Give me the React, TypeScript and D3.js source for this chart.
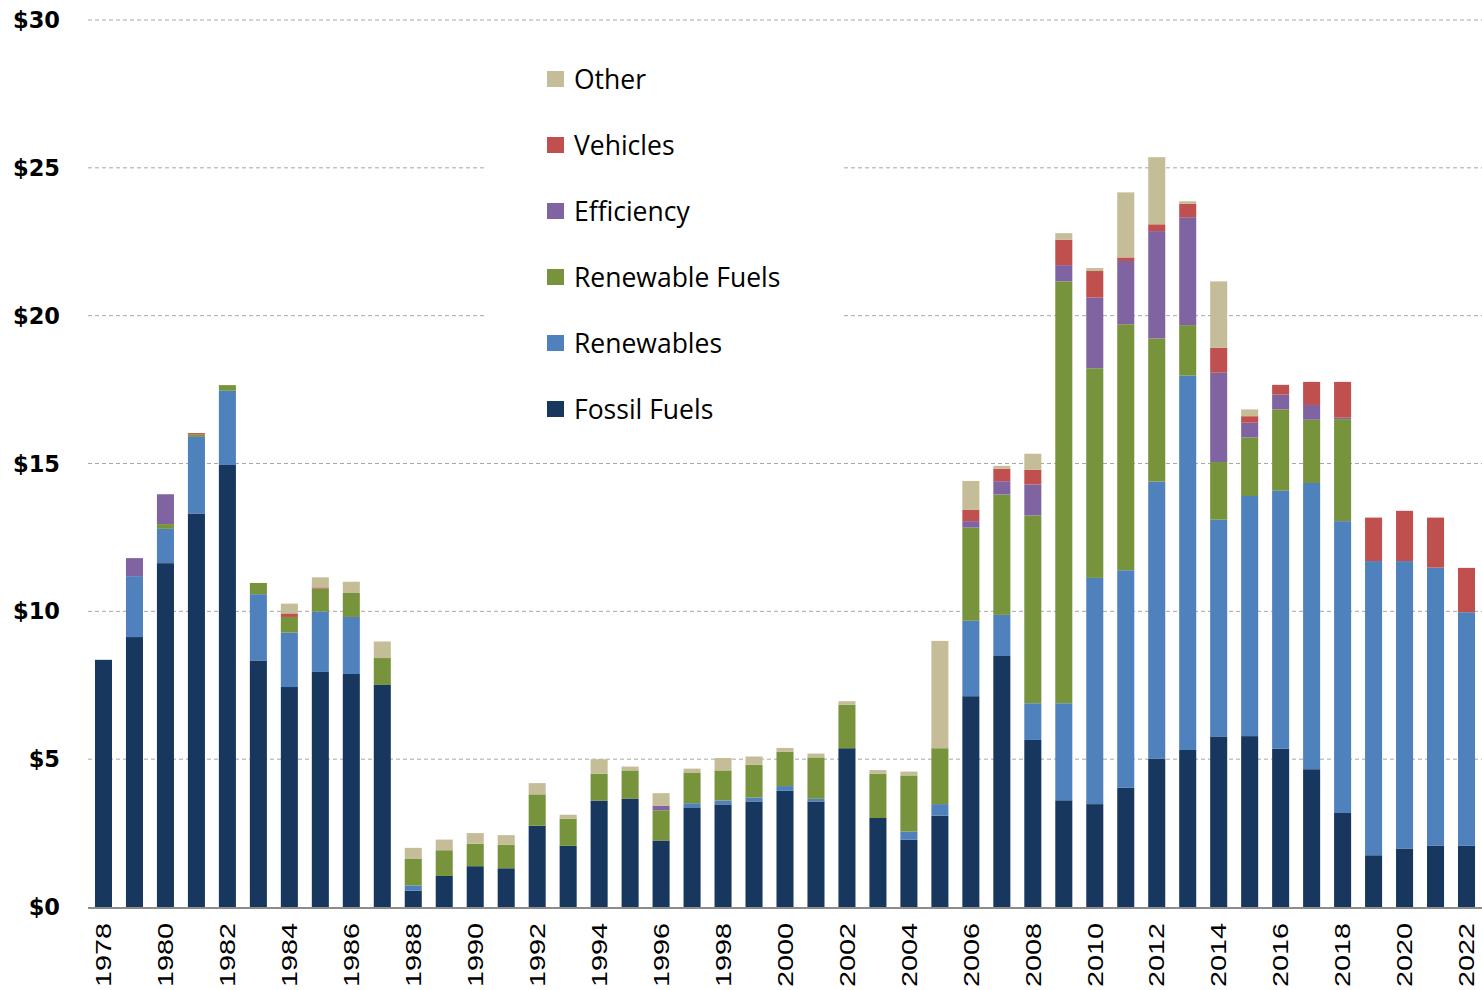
import React from "react";
import * as d3 from "d3";

const years: string[] = [
  "1978","1979","1980","1981","1982","1983","1984","1985","1986","1987",
  "1988","1989","1990","1991","1992","1993","1994","1995","1996","1997",
  "1998","1999","2000","2001","2002","2003","2004","2005","2006","2007",
  "2008","2009","2010","2011","2012","2013","2014","2015","2016","2017",
  "2018","2019","2020","2021","2022",
];

const fossilFuels: number[] = [
  8.36, 9.13, 11.63, 13.31, 14.95, 8.34, 7.44, 7.95, 7.88, 7.51,
  0.55, 1.05, 1.38, 1.31, 2.75, 2.07, 3.6, 3.67, 2.25, 3.37,
  3.47, 3.57, 3.93, 3.57, 5.37, 3.01, 2.28, 3.09, 7.13, 8.49,
  5.65, 3.61, 3.48, 4.03, 5.01, 5.31, 5.77, 5.78, 5.35, 4.66,
  3.18, 1.75, 1.98, 2.08, 2.08,
];
const renewables: number[] = [
  0, 2.06, 1.16, 2.59, 2.51, 2.24, 1.84, 2.04, 1.93, 0,
  0.18, 0, 0, 0, 0, 0, 0, 0, 0, 0.14,
  0.13, 0.13, 0.16, 0.09, 0, 0, 0.27, 0.39, 2.55, 1.39,
  1.24, 3.28, 7.65, 7.36, 9.38, 12.66, 7.33, 8.12, 8.73, 9.68,
  9.87, 9.95, 9.72, 9.4, 7.89,
];
const renewableFuels: number[] = [
  0, 0, 0.16, 0.08, 0.19, 0.38, 0.53, 0.78, 0.81, 0.91,
  0.91, 0.87, 0.76, 0.79, 1.06, 0.92, 0.91, 0.95, 1.02, 1.04,
  1.02, 1.11, 1.16, 1.4, 1.47, 1.5, 1.9, 1.89, 3.15, 4.07,
  6.35, 14.27, 7.09, 8.32, 4.84, 1.71, 1.95, 1.98, 2.75, 2.14,
  3.45, 0, 0, 0, 0,
];
const efficiency: number[] = [
  0, 0.61, 1.01, 0, 0, 0, 0, 0, 0, 0,
  0, 0, 0, 0, 0, 0, 0, 0, 0.15, 0,
  0, 0, 0, 0, 0, 0, 0, 0, 0.22, 0.45,
  1.05, 0.55, 2.39, 2.14, 3.63, 3.65, 3.02, 0.5, 0.5, 0.5,
  0.05, 0, 0, 0, 0,
];
const vehicles: number[] = [
  0, 0, 0, 0.05, 0, 0, 0.12, 0.04, 0, 0,
  0, 0, 0, 0, 0, 0, 0, 0, 0, 0,
  0, 0, 0, 0, 0, 0, 0, 0, 0.38, 0.42,
  0.5, 0.86, 0.9, 0.12, 0.23, 0.45, 0.84, 0.22, 0.33, 0.78,
  1.21, 1.47, 1.7, 1.69, 1.5,
];
const other: number[] = [
  0, 0, 0, 0, 0, 0, 0.33, 0.34, 0.38, 0.56,
  0.36, 0.36, 0.36, 0.33, 0.38, 0.13, 0.49, 0.13, 0.43, 0.13,
  0.42, 0.28, 0.13, 0.13, 0.12, 0.12, 0.13, 3.63, 0.98, 0.1,
  0.54, 0.22, 0.1, 2.2, 2.27, 0.09, 2.25, 0.23, 0, 0,
  0, 0, 0, 0, 0,
];

const seriesNames: string[] = ["Fossil Fuels", "Renewables", "Renewable Fuels", "Efficiency", "Vehicles", "Other"];
const seriesValues: number[][] = [fossilFuels, renewables, renewableFuels, efficiency, vehicles, other];
const seriesColors: string[] = ["#17375E", "#4F81BD", "#77933C", "#8064A2", "#C0504D", "#C4BD97"];
const yTicks: number[] = [0, 5, 10, 15, 20, 25, 30];
const xTickYears: string[] = years.filter((_, i) => i % 2 === 0);

export default function App() {
  const W = 1482, H = 990;
  const left = 88, right = 1482, top = 20, bottom = 907;

  const x = d3.scaleBand<string>().domain(years).range([left, right]).paddingInner(0.45).paddingOuter(0.225);
  const y = d3.scaleLinear().domain([0, 30]).range([bottom, top]);

  const rows = years.map((yr, i) => {
    const r: any = { year: yr };
    seriesNames.forEach((n, k) => (r[n] = seriesValues[k][i]));
    return r;
  });
  const stacked = d3.stack<any>().keys(seriesNames)(rows);

  const legendX = 547;
  const legendTop = 79;
  const legendStep = 66;
  const legendOrder = [...seriesNames].reverse();

  return (
    <svg width={W} height={H} style={{ position: "absolute", left: 0, top: 0, background: "#fff" }}>
      {yTicks.filter((t) => t > 0).map((t) => (
        <line key={t} x1={left} x2={right} y1={y(t)} y2={y(t)} stroke="#a6a6a6" strokeWidth={1} strokeDasharray="4,3" />
      ))}
      <rect x={487} y={45} width={355} height={395} fill="#fff" />
      {yTicks.map((t) => (
        <text key={t} x={60} y={y(t)} dy="0.36em" textAnchor="end" fontFamily="'DejaVu Sans', Verdana, sans-serif" fontWeight="bold" fontSize={22.5} fill="#000">
          {"$" + t}
        </text>
      ))}
      {stacked.map((layer, k) => (
        <g key={seriesNames[k]} fill={seriesColors[k]}>
          {layer.map((d, i) => {
            const h = y(d[0]) - y(d[1]);
            if (h <= 0) return null;
            return <rect key={i} x={x(years[i])} y={y(d[1])} width={x.bandwidth()} height={h} />;
          })}
        </g>
      ))}
      <line x1={left} x2={right} y1={bottom + 1} y2={bottom + 1} stroke="#8c8c8c" strokeWidth={2} />
      {xTickYears.map((yr) => {
        const cx = (x(yr) as number) + x.bandwidth() / 2;
        return (
          <text key={yr} transform={`translate(${cx},${923}) rotate(-90)`} textAnchor="end" dy="0.36em" fontFamily="'Liberation Sans', Arial, sans-serif" fontSize={21.5} textLength={64} lengthAdjust="spacingAndGlyphs" fill="#000">
            {yr}
          </text>
        );
      })}
      {legendOrder.map((n, j) => {
        const k = seriesNames.indexOf(n);
        const cy = legendTop + j * legendStep;
        return (
          <g key={n}>
            <rect x={legendX} y={cy - 8} width={17} height={16} fill={seriesColors[k]} />
            <text x={legendX + 27} y={cy} dy="0.36em" fontFamily="'Open Sans', sans-serif" fontSize={26.5} fill="#000">
              {n}
            </text>
          </g>
        );
      })}
    </svg>
  );
}
